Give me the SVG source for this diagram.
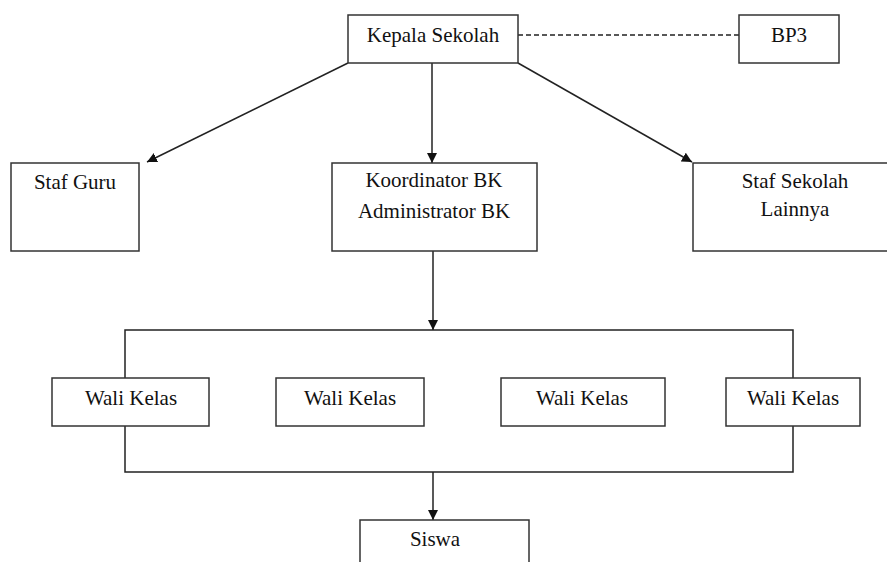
<svg xmlns="http://www.w3.org/2000/svg" width="887" height="562" viewBox="0 0 887 562">
<style>
.box{fill:#fff;stroke:#333;stroke-width:1.5}
.ln{fill:none;stroke:#222;stroke-width:1.5}
text{font-family:'Liberation Serif','DejaVu Serif',serif;font-size:21px;fill:#111;text-anchor:middle}
</style>
<defs>
<marker id="ah" viewBox="0 0 10 10" refX="10" refY="5" markerWidth="10" markerHeight="10" markerUnits="userSpaceOnUse" orient="auto">
<path d="M0,0 L10,5 L0,10 Z" fill="#111"/>
</marker>
</defs>
<rect width="887" height="562" fill="#fff"/>
<g id="connectors">
<line class="ln" x1="518" y1="35" x2="739" y2="35" stroke-dasharray="5,3"/>
<line class="ln" x1="348" y1="63" x2="147" y2="162" marker-end="url(#ah)"/>
<line class="ln" x1="432" y1="63" x2="432" y2="163" marker-end="url(#ah)"/>
<line class="ln" x1="518" y1="63" x2="692" y2="162" marker-end="url(#ah)"/>
<line class="ln" x1="433" y1="251" x2="433" y2="330" marker-end="url(#ah)"/>
<polyline class="ln" points="125,378 125,330 793,330 793,378"/>
<polyline class="ln" points="125,426 125,472 793,472 793,426"/>
<line class="ln" x1="433" y1="472" x2="433" y2="520" marker-end="url(#ah)"/>
</g>
<g id="kepala"><rect class="box" x="348" y="15" width="170" height="48"/><text x="433" y="42">Kepala Sekolah</text></g>
<g id="bp3"><rect class="box" x="739" y="15" width="100" height="48"/><text x="789" y="42">BP3</text></g>
<g id="stafguru"><rect class="box" x="11" y="163" width="128" height="88"/><text x="75" y="189">Staf Guru</text></g>
<g id="koordinator"><rect class="box" x="332" y="163" width="205" height="88"/><text x="434" y="187">Koordinator BK</text><text x="434" y="218">Administrator BK</text></g>
<g id="stafsekolah"><rect class="box" x="693" y="163" width="204" height="88"/><text x="795" y="188">Staf Sekolah</text><text x="795" y="216">Lainnya</text></g>
<g id="wali1"><rect class="box" x="52" y="378" width="157" height="48"/><text x="131" y="405">Wali Kelas</text></g>
<g id="wali2"><rect class="box" x="276" y="378" width="148" height="48"/><text x="350" y="405">Wali Kelas</text></g>
<g id="wali3"><rect class="box" x="501" y="378" width="164" height="48"/><text x="582" y="405">Wali Kelas</text></g>
<g id="wali4"><rect class="box" x="726" y="378" width="134" height="48"/><text x="793" y="405">Wali Kelas</text></g>
<g id="siswa"><rect class="box" x="360" y="520" width="169" height="60"/><text x="435" y="546">Siswa</text></g>
</svg>
